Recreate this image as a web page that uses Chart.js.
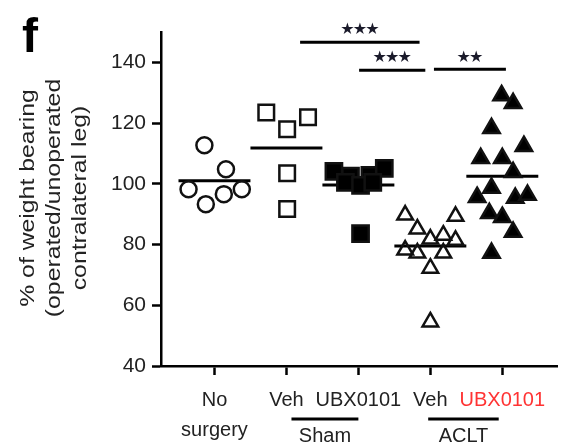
<!DOCTYPE html>
<html>
<head>
<meta charset="utf-8">
<script src="https://cdn.jsdelivr.net/npm/chart.js@4.4.1/dist/chart.umd.min.js"></script>
<style>
  html, body { margin: 0; padding: 0; background: #fff; }
  #wrap { width: 571px; height: 445px; }
</style>
</head>
<body>
<div id="wrap"><canvas id="weightChart" width="571" height="445"></canvas></div>
<script>
// groups on the x axis (positions 1..5)
const categories = ['No surgery', 'Sham Veh', 'Sham UBX0101', 'ACLT Veh', 'ACLT UBX0101'];
const xTickLabels = [['No', 'surgery'], 'Veh', 'UBX0101', 'Veh', 'UBX0101'];
const yTicks = [40, 60, 80, 100, 120, 140];

// individual animals (% weight bearing) + horizontal jitter within the group
const noSurgeryValues = [112.7, 104.8, 98.2, 93.3, 96.6, 98.2];
const noSurgeryJitter = [-0.14, 0.16, -0.36, -0.12, 0.13, 0.38];

const shamVehValues = [123.5, 118, 121.9, 103.5, 91.7];
const shamVehJitter = [-0.28, 0.01, 0.30, 0.01, 0.01];

const shamUbxValues = [104.1, 102.5, 102.8, 105.1, 100.5, 99.5, 100.5, 83.6];
const shamUbxJitter = [-0.34, -0.11, 0.16, 0.36, -0.18, 0.03, 0.20, 0.03];

const acltVehValues = [89.7, 85.1, 81.8, 83.1, 89.3, 81.4, 78.2, 77.2, 77.2, 72.2, 54.5];
const acltVehJitter = [-0.35, -0.18, 0, 0.18, 0.35, 0.35, -0.35, -0.18, 0.18, 0, 0];

const acltUbxValues = [129.1, 126.5, 118.3, 112.4, 108.4, 108.4, 103.8, 98.6, 95.6, 95.3, 96.3, 90.3, 89, 84.1, 77.2];
const acltUbxJitter = [-0.01, 0.15, -0.15, 0.30, -0.30, 0, 0.15, -0.15, -0.35, 0.18, 0.35, -0.18, 0, 0.15, -0.15];

// group means (horizontal bars)
const groupMeans = [101, 111.8, 99.6, 79.5, 102.5];

// significance brackets: [x from, x to, y value, stars]
const sigBrackets = [
  [2.19, 3.85, 146.6, '***'],
  [3.01, 3.93, 137.4, '***'],
  [4.05, 5.05, 137.7, '**']
];

const textColor = '#222';

function points(groupPos, values, jitter) {
  return values.map(function(v, i) {
    return { x: groupPos + jitter[i], y: v };
  });
}

function markerSet(label, groupPos, values, jitter, style, radius, filled) {
  return {
    label: label,
    data: points(groupPos, values, jitter),
    pointStyle: style,
    pointRadius: radius,
    pointHoverRadius: radius,
    pointBorderWidth: 2.5,
    pointBorderColor: '#111',
    pointBackgroundColor: filled ? '#000' : 'rgba(255,255,255,0)',
    showLine: false,
    clip: false
  };
}

const datasets = [
  markerSet(categories[0], 1, noSurgeryValues, noSurgeryJitter, 'circle', 8, false),
  markerSet(categories[1], 2, shamVehValues, shamVehJitter, 'rect', 11, false),
  markerSet(categories[2], 3, shamUbxValues, shamUbxJitter, 'rect', 11.5, true),
  markerSet(categories[3], 4, acltVehValues, acltVehJitter, 'triangle', 9, false),
  markerSet(categories[4], 5, acltUbxValues, acltUbxJitter, 'triangle', 9.5, true)
];

groupMeans.forEach(function(m, i) {
  datasets.push({
    label: categories[i] + ' mean',
    data: [{ x: i + 1 - 0.5, y: m }, { x: i + 1 + 0.5, y: m }],
    showLine: true,
    borderColor: '#000',
    borderWidth: 3,
    pointRadius: 0,
    clip: false
  });
});

// extra drawing: y title, panel letter, brackets, group labels
const annotations = {
  id: 'annotations',
  afterDraw: function(chart) {
    const ctx = chart.ctx;
    const xs = chart.scales.x;
    const ys = chart.scales.y;
    ctx.save();

    // panel letter
    ctx.fillStyle = '#000';
    ctx.font = 'bold 48px "Liberation Sans", Arial, sans-serif';
    ctx.textAlign = 'left';
    ctx.textBaseline = 'alphabetic';
    ctx.fillText('f', 22, 52);

    // y axis title (three rotated lines)
    const titleLines = ['% of weight bearing', '(operated/unoperated', 'contralateral leg)'];
    const titleX = [28, 54, 80];
    ctx.fillStyle = textColor;
    ctx.font = '21px "Liberation Sans", Arial, sans-serif';
    ctx.textAlign = 'center';
    ctx.textBaseline = 'middle';
    titleLines.forEach(function(t, i) {
      ctx.save();
      ctx.translate(titleX[i], 198);
      ctx.rotate(-Math.PI / 2);
      ctx.scale(1.18, 1);
      ctx.fillText(t, 0, 0);
      ctx.restore();
    });

    // significance brackets
    ctx.strokeStyle = '#000';
    ctx.lineWidth = 3;
    ctx.fillStyle = '#1a1a2a';
    ctx.font = '16px "DejaVu Sans", sans-serif';
    sigBrackets.forEach(function(b) {
      const x1 = xs.getPixelForValue(b[0]);
      const x2 = xs.getPixelForValue(b[1]);
      const y = ys.getPixelForValue(b[2]);
      ctx.beginPath();
      ctx.moveTo(x1, y);
      ctx.lineTo(x2, y);
      ctx.stroke();
      const n = b[3].length;
      const cx = (x1 + x2) / 2;
      for (let k = 0; k < n; k++) {
        ctx.fillText('\u2605', cx + (k - (n - 1) / 2) * 12.5, y - 12);
      }
    });

    // treatment group lines under the tick labels
    const groups = [['Sham', 2.07, 3.0], ['ACLT', 3.97, 4.95]];
    ctx.fillStyle = textColor;
    ctx.font = '20px "Liberation Sans", Arial, sans-serif';
    groups.forEach(function(g) {
      const x1 = xs.getPixelForValue(g[1]);
      const x2 = xs.getPixelForValue(g[2]);
      const y = chart.chartArea.bottom + 53;
      ctx.beginPath();
      ctx.moveTo(x1, y);
      ctx.lineTo(x2, y);
      ctx.stroke();
      ctx.fillText(g[0], (x1 + x2) / 2, y + 17);
    });

    ctx.restore();
  }
};

new Chart(document.getElementById('weightChart').getContext('2d'), {
  type: 'scatter',
  data: { datasets: datasets },
  options: {
    responsive: false,
    animation: false,
    events: [],
    layout: { padding: { top: 32, right: 3, left: 0, bottom: 0 } },
    plugins: {
      legend: { display: false },
      tooltip: { enabled: false }
    },
    scales: {
      x: {
        type: 'linear',
        min: 0.257,
        max: 5.76,
        afterFit: function(scale) { scale.height = 79; },
        afterBuildTicks: function(scale) {
          scale.ticks = [1, 2, 3, 4, 5].map(function(v) { return { value: v }; });
        },
        border: { display: true, color: '#000', width: 2.5 },
        grid: { drawOnChartArea: false, drawTicks: true, tickLength: 9, tickWidth: 2.5, tickColor: '#000' },
        ticks: {
          autoSkip: false,
          maxRotation: 0,
          padding: 10,
          font: { family: '"Liberation Sans", Arial, sans-serif', size: 20, lineHeight: 1.5 },
          color: function(c) { return c.tick && c.tick.value === 5 ? '#ff3333' : textColor; },
          callback: function(v) { return xTickLabels[v - 1]; }
        }
      },
      y: {
        min: 40,
        max: 150,
        afterFit: function(scale) { scale.width = 161; },
        afterBuildTicks: function(scale) {
          scale.ticks = yTicks.map(function(v) { return { value: v }; });
        },
        border: { display: true, color: '#000', width: 2.5 },
        grid: { drawOnChartArea: false, drawTicks: true, tickLength: 9, tickWidth: 2.5, tickColor: '#000' },
        ticks: {
          padding: 6,
          font: { family: '"Liberation Sans", Arial, sans-serif', size: 21 },
          color: textColor
        }
      }
    }
  },
  plugins: [annotations]
});
</script>
</body>
</html>
